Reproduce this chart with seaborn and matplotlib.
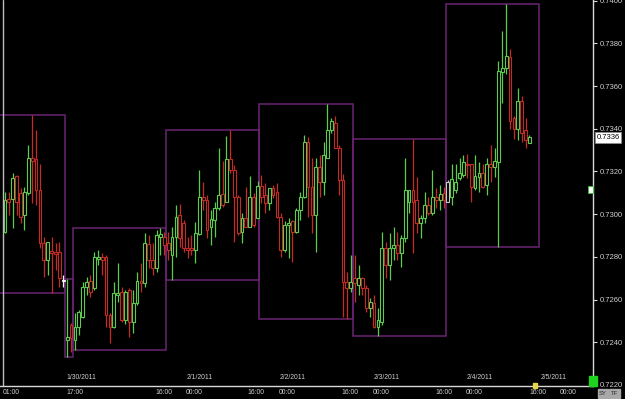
import numpy as np
import pandas as pd
import matplotlib
matplotlib.use("Agg")
import matplotlib.pyplot as plt
import matplotlib.transforms as mtransforms
from matplotlib.patches import Rectangle
import seaborn as sns

# ---------------- data (hourly candles) ----------------
opens = [0.72915, 0.73069, 0.73069, 0.73177, 0.73097, 0.72994, 0.73097, 0.73265, 0.73256, 0.73111,
         0.72864, 0.72784, 0.72826, 0.72822, 0.72822, 0.72691, 0.72410, 0.72480, 0.72410, 0.72471,
         0.72518, 0.72658, 0.72686, 0.72653, 0.72789, 0.72798, 0.72798, 0.72527, 0.72471, 0.72621,
         0.72635, 0.72504, 0.72644, 0.72494, 0.72583, 0.72686, 0.72677, 0.72859, 0.72784, 0.72747,
         0.72892, 0.72892, 0.72864, 0.72807, 0.72892, 0.72994, 0.72957, 0.72840, 0.72840, 0.72831,
         0.72906, 0.73079, 0.73065, 0.72938, 0.72971, 0.73027, 0.73093, 0.73055, 0.73256, 0.73205,
         0.73079, 0.72915, 0.72980, 0.72938, 0.73079, 0.72980, 0.73130, 0.73088, 0.73051, 0.73121,
         0.73102, 0.72985, 0.72831, 0.72948, 0.72966, 0.72915, 0.73018, 0.73079, 0.73336, 0.73125,
         0.72994, 0.73223, 0.73149, 0.73265, 0.73392, 0.73429, 0.73312, 0.73158, 0.72681, 0.72653,
         0.72700, 0.72667, 0.72700, 0.72653, 0.72560, 0.72583, 0.72471, 0.72494, 0.72840, 0.72761,
         0.72840, 0.72854, 0.72817, 0.72887, 0.73055, 0.73111, 0.73065, 0.72957, 0.72980, 0.73041,
         0.73004, 0.73079, 0.73065, 0.73097, 0.73055, 0.73079, 0.73111, 0.73167, 0.73181, 0.73237,
         0.73233, 0.73121, 0.73172, 0.73195, 0.73135, 0.73233, 0.73219, 0.73242, 0.73667, 0.73686,
         0.73737, 0.73448, 0.73401, 0.73532, 0.73392, 0.73331]
closes = [0.73065, 0.73055, 0.73167, 0.73055, 0.72985, 0.73102, 0.73261, 0.73251, 0.73111, 0.72864,
          0.72784, 0.72868, 0.72817, 0.72812, 0.72700, 0.72686, 0.72424, 0.72420, 0.72471, 0.72541,
          0.72658, 0.72681, 0.72635, 0.72798, 0.72798, 0.72784, 0.72527, 0.72471, 0.72630, 0.72630,
          0.72504, 0.72635, 0.72494, 0.72583, 0.72686, 0.72677, 0.72864, 0.72784, 0.72747, 0.72901,
          0.72906, 0.72854, 0.72831, 0.72892, 0.72985, 0.72887, 0.72840, 0.72831, 0.72831, 0.72910,
          0.73079, 0.73065, 0.72924, 0.72976, 0.73027, 0.73088, 0.73041, 0.73256, 0.73205, 0.73079,
          0.72910, 0.72980, 0.72938, 0.73079, 0.72948, 0.73130, 0.73079, 0.73051, 0.73121, 0.73088,
          0.72985, 0.72831, 0.72948, 0.72957, 0.72915, 0.73018, 0.73079, 0.73336, 0.73125, 0.72994,
          0.73223, 0.73149, 0.73275, 0.73392, 0.73434, 0.73312, 0.73158, 0.72681, 0.72653, 0.72681,
          0.72677, 0.72700, 0.72653, 0.72560, 0.72588, 0.72471, 0.72504, 0.72840, 0.72761, 0.72840,
          0.72854, 0.72817, 0.72887, 0.73111, 0.73111, 0.73055, 0.72957, 0.72980, 0.73041, 0.73004,
          0.73079, 0.73065, 0.73093, 0.73065, 0.73149, 0.73163, 0.73149, 0.73191, 0.73242, 0.73228,
          0.73125, 0.73177, 0.73195, 0.73125, 0.73233, 0.73219, 0.73247, 0.73672, 0.73686, 0.73742,
          0.73438, 0.73401, 0.73532, 0.73382, 0.73345, 0.73359]
highs = [0.73102, 0.73102, 0.73191, 0.73181, 0.73121, 0.73125, 0.73326, 0.73466, 0.73392, 0.73233,
         0.72892, 0.72868, 0.72892, 0.72864, 0.72868, 0.72714, 0.72695, 0.72490, 0.72536, 0.72550,
         0.72681, 0.72705, 0.72714, 0.72822, 0.72831, 0.72817, 0.72807, 0.72536, 0.72681, 0.72770,
         0.72658, 0.72644, 0.72653, 0.72644, 0.72728, 0.72770, 0.72910, 0.72901, 0.72864, 0.72924,
         0.72934, 0.72915, 0.72915, 0.72938, 0.73041, 0.73046, 0.72971, 0.72892, 0.72901, 0.72962,
         0.73205, 0.73149, 0.73088, 0.73018, 0.73055, 0.73308, 0.73247, 0.73364, 0.73392, 0.73228,
         0.73088, 0.73004, 0.73125, 0.73177, 0.73097, 0.73153, 0.73181, 0.73144, 0.73121, 0.73135,
         0.73144, 0.73004, 0.72966, 0.72980, 0.72971, 0.73027, 0.73102, 0.73373, 0.73359, 0.73261,
         0.73261, 0.73279, 0.73336, 0.73518, 0.73448, 0.73462, 0.73322, 0.73186, 0.72728, 0.72807,
         0.72807, 0.72761, 0.72705, 0.72667, 0.72607, 0.72621, 0.72560, 0.72915, 0.72868, 0.72910,
         0.72938, 0.72915, 0.72901, 0.73261, 0.73111, 0.73350, 0.73172, 0.72994, 0.73102, 0.73079,
         0.73205, 0.73121, 0.73135, 0.73125, 0.73158, 0.73237, 0.73237, 0.73261, 0.73275, 0.73284,
         0.73237, 0.73275, 0.73242, 0.73237, 0.73261, 0.73322, 0.73308, 0.73719, 0.73859, 0.73985,
         0.73775, 0.73462, 0.73593, 0.73555, 0.73452, 0.73373]
lows = [0.72910, 0.72994, 0.72934, 0.72994, 0.72957, 0.72924, 0.73088, 0.73051, 0.73041, 0.72840,
        0.72705, 0.72714, 0.72630, 0.72737, 0.72658, 0.72658, 0.72331, 0.72354, 0.72364, 0.72434,
        0.72513, 0.72621, 0.72611, 0.72644, 0.72761, 0.72714, 0.72471, 0.72396, 0.72466, 0.72588,
        0.72494, 0.72485, 0.72424, 0.72443, 0.72574, 0.72635, 0.72658, 0.72747, 0.72714, 0.72728,
        0.72807, 0.72807, 0.72784, 0.72691, 0.72798, 0.72845, 0.72822, 0.72793, 0.72807, 0.72770,
        0.72901, 0.73018, 0.72887, 0.72854, 0.72892, 0.73018, 0.73032, 0.73055, 0.73195, 0.72868,
        0.72901, 0.72864, 0.72938, 0.72938, 0.72938, 0.72980, 0.73051, 0.73004, 0.73018, 0.73074,
        0.72980, 0.72798, 0.72822, 0.72793, 0.72775, 0.72910, 0.72971, 0.73074, 0.72985, 0.72910,
        0.72822, 0.73079, 0.73088, 0.73261, 0.73378, 0.73308, 0.73088, 0.72518, 0.72508, 0.72635,
        0.72588, 0.72621, 0.72621, 0.72541, 0.72518, 0.72466, 0.72429, 0.72480, 0.72700, 0.72691,
        0.72784, 0.72784, 0.72751, 0.72868, 0.73004, 0.72817, 0.72910, 0.72887, 0.72957, 0.72994,
        0.72994, 0.73027, 0.73018, 0.73027, 0.73055, 0.73041, 0.73097, 0.73158, 0.73172, 0.73167,
        0.73055, 0.73111, 0.73102, 0.73121, 0.73088, 0.73149, 0.73172, 0.72845, 0.73522, 0.73658,
        0.73401, 0.73354, 0.73345, 0.73336, 0.73312, 0.73331]

# number of hourly bars in each trading session (boxes mark session high/low)
session_sizes = [16, 2, 24, 24, 24, 24, 24]
# bars highlighted by the platform cursor
cursor_bars = [15, 114]

price_ticks = [0.7220, 0.7240, 0.7260, 0.7280, 0.7300, 0.7320, 0.7340, 0.7360, 0.7380, 0.7400]
time_labels = ["01:00", "17:00", "16:00", "00:00", "16:00", "00:00",
               "16:00", "00:00", "16:00", "00:00", "16:00", "00:00"]
time_pos = [-0.51, 15.7, 38.6, 46.6, 62.5, 70.5, 86.7, 94.7, 110.7, 118.7, 134.9, 142.9]
date_labels = ["1/30/2011", "2/1/2011", "2/2/2011", "2/3/2011", "2/4/2011", "2/5/2011"]
date_pos = [15.7, 46.8, 70.8, 95.0, 118.9, 138.0]
minor_tick_pos = [-0.51, 22.65, 38.6, 62.5, 86.7, 110.7, 134.9]

# ---------------- styling ----------------
sns.set_theme(style="dark", rc={
    "figure.facecolor": "black", "axes.facecolor": "black",
    "axes.grid": False, "savefig.facecolor": "black",
})
plt.rcParams['font.family'] = ['Liberation Sans', 'DejaVu Sans']

GREEN = "#5ccc4f"
RED = "#c42a26"
BOX = "#6b2472"
TXT = "#cfcfcf"
AXC = "#d8d8d8"

df = pd.DataFrame({"open": opens, "close": closes, "high": highs, "low": lows})
df["i"] = np.arange(len(df))
df["color"] = np.where(df["close"] >= df["open"], GREEN, RED)
df.loc[cursor_bars[0], "color"] = "#f0f0f0"
df.loc[cursor_bars[1], "color"] = "#c8c8c8"

fig = plt.figure(figsize=(6.25, 3.99), dpi=100)
ax = fig.add_axes([0, 13 / 399, 593 / 625, 386 / 399])

# session boxes (the first session began before the visible window)
start = 0
for k, size in enumerate(session_sizes):
    seg = df.iloc[start:min(start + size, len(df))]
    hi, lo = seg["high"].max(), seg["low"].min()
    left = start - 0.5 if k > 0 else start - 4.5
    width = (start + size - 0.5) - left
    ax.add_patch(Rectangle((left, lo), width, hi - lo, fill=False,
                           edgecolor=BOX, linewidth=1.1, zorder=1))
    start += size

# wicks
ax.vlines(df["i"], df["low"], df["high"], colors=df["color"], linewidth=0.9, zorder=2)
# hollow bodies
body_lo = np.minimum(df["open"], df["close"])
body_h = np.maximum(np.abs(df["close"] - df["open"]), 0.00003)
ax.bar(df["i"], body_h, bottom=body_lo, width=0.72, facecolor="black",
       edgecolor=df["color"], linewidth=0.8, zorder=3)

# left grey marker line
ax.axvline(-0.64, color="#bdbdbd", linewidth=1.0, zorder=4)

ax.set_xlim(-1.29, 151.35)
ax.set_ylim(0.72195, 0.74003)

for s in ["top", "left"]:
    ax.spines[s].set_visible(False)
for s in ["right", "bottom"]:
    ax.spines[s].set_color(AXC)
    ax.spines[s].set_linewidth(1.0)

ax.yaxis.tick_right()
ax.set_yticks(price_ticks)
ax.set_yticklabels([f"{v:.4f}" for v in price_ticks])
ax.tick_params(axis="y", which="major", direction="out", length=3, width=0.8,
               color=AXC, labelcolor=TXT, labelsize=5.5, pad=1.5)

ax.set_xticks(time_pos)
ax.set_xticklabels(time_labels)
for lab in ax.get_xticklabels():
    lab.set_ha("left")
ax.set_xticks(minor_tick_pos, minor=True)
ax.tick_params(axis="x", which="major", length=0, labelcolor=TXT, labelsize=4.9, pad=2.5)
ax.tick_params(axis="x", which="minor", direction="inout", length=4, width=0.8, color=AXC)

trans = mtransforms.blended_transform_factory(ax.transData, ax.transAxes)
for lab, p in zip(date_labels, date_pos):
    ax.text(p, 0.021, lab, transform=trans, ha="left", va="center",
            fontsize=4.9, color=TXT)

# current price tag
trans_y = mtransforms.blended_transform_factory(ax.transAxes, ax.transData)
ax.text(1.006, closes[-1], f"{closes[-1]:.4f}", transform=trans_y, ha="left", va="center",
        fontsize=5.5, color="black", clip_on=False, zorder=6,
        bbox=dict(boxstyle="square,pad=0.2", facecolor="white", edgecolor="#909090", linewidth=0.5))

# platform widgets
def fx(px):
    return px / 625
def fy(py):
    return 1 - py / 399

fig.patches.append(Rectangle((fx(589), fy(386)), 8 / 625, 10 / 399, color="#1fd21f",
                             transform=fig.transFigure, zorder=5))
fig.patches.append(Rectangle((fx(533), fy(388)), 4 / 625, 5 / 399, color="#e6d44a",
                             transform=fig.transFigure, zorder=5))
fig.patches.append(Rectangle((fx(588), fy(193)), 5 / 625, 7 / 399, facecolor="white",
                             edgecolor="#2bbf2b", linewidth=0.6,
                             transform=fig.transFigure, zorder=5))
for x0, w, t in [(598, 10, "SY"), (609, 11, "TF")]:
    fig.patches.append(Rectangle((fx(x0), fy(398)), w / 625, 9 / 399, color="#a8a8a8",
                                 transform=fig.transFigure, zorder=5))
    fig.text(fx(x0 + w / 2), fy(393.5), t, ha="center", va="center", fontsize=4.2,
             color="#2a2a2a", zorder=6)

fig.savefig("out.png", dpi=100, facecolor="black")
